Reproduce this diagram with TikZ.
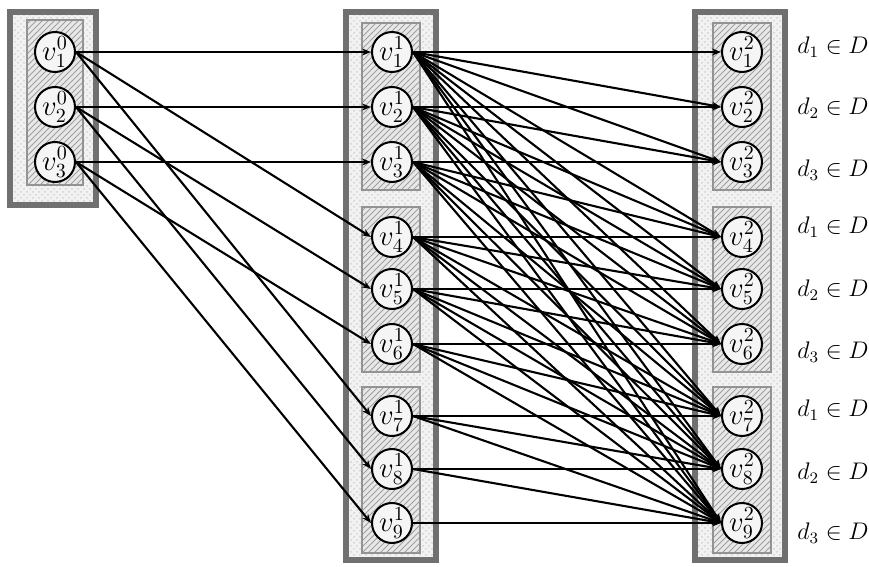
\documentclass[tikz,border=0pt]{standalone}
\usetikzlibrary{arrows.meta,patterns}
\definecolor{framegray}{HTML}{707070}
\tikzset{
  layerbox/.style={preaction={fill=gray!10}, pattern=crosshatch dots, pattern color=gray!35, draw=framegray, line width=2.6pt},
  groupbox/.style={preaction={fill=gray!18}, pattern=north east lines, pattern color=gray!75, draw=gray!85, line width=1pt},
  vertex/.style={draw, circle, line width=1pt, fill=gray!8, minimum size=20pt, inner sep=0pt, font=\fontsize{14}{16}\selectfont},
  edge/.style={-{Stealth[length=4.5pt,width=3.5pt]}, line width=1.05pt},
  setlabel/.style={font=\fontsize{12}{14}\selectfont},
}
\begin{document}
\begin{tikzpicture}[x=0.5pt, y=-0.5pt]
  \useasboundingbox (0,0) rectangle (869,567);
  % layers
  \draw[layerbox] (10,12) rectangle (96,205);
  \draw[layerbox] (346,12) rectangle (436,560);
  \draw[layerbox] (695,12) rectangle (785,560);
  % groups of three
  \draw[groupbox] (27,20) rectangle (83,185);
  \foreach \x in {362,713} {
    \draw[groupbox] (\x,23) rectangle (\x+58,190);
    \draw[groupbox] (\x,207) rectangle (\x+58,372);
    \draw[groupbox] (\x,387) rectangle (\x+58,553);
  }
  % vertices
  \foreach \i/\y in {1/52, 2/107, 3/162}
    \node[vertex, name=v0_\i] at (55,\y) {$v^0_\i$};
  \foreach \i/\y in {1/52, 2/107, 3/162, 4/237, 5/289, 6/344, 7/416, 8/469, 9/523} {
    \node[vertex, name=v1_\i] at (392,\y) {$v^1_\i$};
    \node[vertex, name=v2_\i] at (742,\y) {$v^2_\i$};
  }
  % labels
  \foreach \y/\d in {47/1, 108/2, 170/3, 227/1, 290/2, 352/3, 410/1, 473/2, 533/3}
    \node[setlabel, name=d_\y] at (833,\y) {$d_\d \in D$};
  % edges
  \foreach \i in {1,2,3}
    \foreach \k in {0,3,6} {
      \pgfmathtruncatemacro\j{\i+\k}
      \draw[edge] (v0_\i.east) -- (v1_\j.west);
    }
  \foreach \i in {1,...,9}
    \foreach \j in {\i,...,9}
      \draw[edge] (v1_\i.east) -- (v2_\j.west);
\end{tikzpicture}
\end{document}
